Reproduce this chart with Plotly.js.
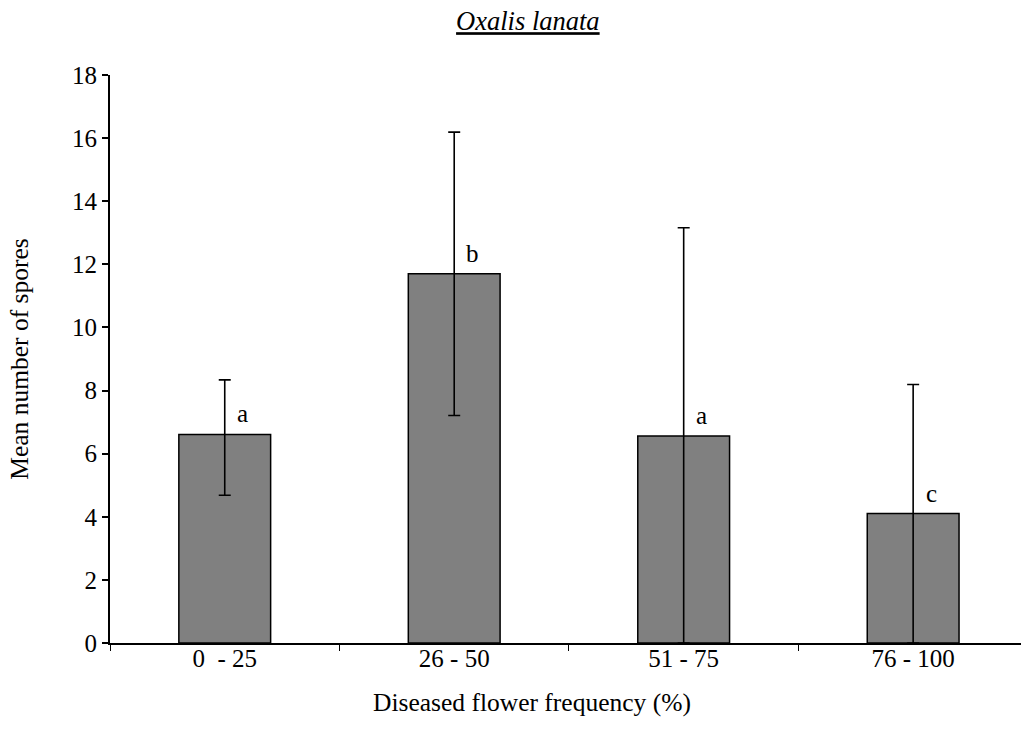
<!DOCTYPE html>
<html>
<head>
<meta charset="utf-8">
<script src="https://cdn.plot.ly/plotly-3.0.1.min.js"></script>
<style>
  html, body { margin: 0; padding: 0; background: #ffffff; }
  #chart { width: 1021px; height: 747px; }
</style>
</head>
<body>
<div id="chart"></div>
<script>
// ---- data ----
const categories = ["0\u00a0\u00a0- 25", "26 - 50", "51 - 75", "76 - 100"];
const means      = [6.61, 11.70, 6.56, 4.10];
const errPlus    = [1.73, 4.49, 6.60, 4.09];
const errMinus   = [1.93, 4.49, 6.56, 4.10];
const letters    = ["a", "b", "a", "c"];
const yTicks     = [0, 2, 4, 6, 8, 10, 12, 14, 16, 18];

const FONT = "Liberation Serif";

const trace = {
  type: "bar",
  x: categories,
  y: means,
  width: 0.4,
  marker: { color: "#808080", line: { color: "#000000", width: 1.5 } },
  error_y: {
    type: "data",
    symmetric: false,
    array: errPlus,
    arrayminus: errMinus,
    color: "#000000",
    thickness: 1.6,
    width: 6
  },
  hoverinfo: "x+y"
};

const annotations = categories.map((c, i) => ({
  x: c, y: means[i], xref: "x", yref: "y",
  text: letters[i], showarrow: false,
  xanchor: "center", yanchor: "bottom",
  xshift: 18, yshift: 5,
  font: { family: FONT, size: 25, color: "#000000" }
}));

// x-axis title (centred like the chart title, left of the plot-area centre)
annotations.push({
  text: "Diseased flower frequency (%)",
  xref: "paper", yref: "paper", x: 0.463, y: 0,
  xanchor: "center", yanchor: "middle", yshift: -59,
  showarrow: false,
  font: { family: FONT, size: 25.5, color: "#000000" }
});

const layout = {
  width: 1021, height: 747,
  paper_bgcolor: "#ffffff", plot_bgcolor: "#ffffff",
  margin: { l: 110, r: 0, t: 75, b: 104 },
  showlegend: false,
  font: { family: FONT, size: 25, color: "#000000" },
  title: {
    text: "<u><i>Oxalis lanata</i></u>",
    x: 0.517, xref: "container", xanchor: "center",
    y: 0.972, yref: "container", yanchor: "middle",
    font: { family: FONT, size: 26.5, color: "#000000" }
  },
  xaxis: {
    type: "category",
    range: [-0.5, 3.47],
    tickson: "boundaries",
    ticks: "outside", ticklen: 6, tickwidth: 1, tickcolor: "#000000",
    showline: true, linecolor: "#000000", linewidth: 2,
    showgrid: false, zeroline: false,
    ticklabelstandoff: -8,
    tickfont: { family: FONT, size: 25, color: "#000000" }
  },
  yaxis: {
    range: [0, 18],
    tickvals: yTicks,
    ticks: "outside", ticklen: 6, tickwidth: 1.5, tickcolor: "#000000",
    showline: true, linecolor: "#000000", linewidth: 2,
    showgrid: false, zeroline: false,
    tickfont: { family: FONT, size: 25, color: "#000000" },
    title: { text: "Mean number of spores", standoff: 36,
             font: { family: FONT, size: 25.5, color: "#000000" } }
  },
  annotations: annotations
};

Plotly.newPlot("chart", [trace], layout, { displayModeBar: false });
</script>
</body>
</html>
